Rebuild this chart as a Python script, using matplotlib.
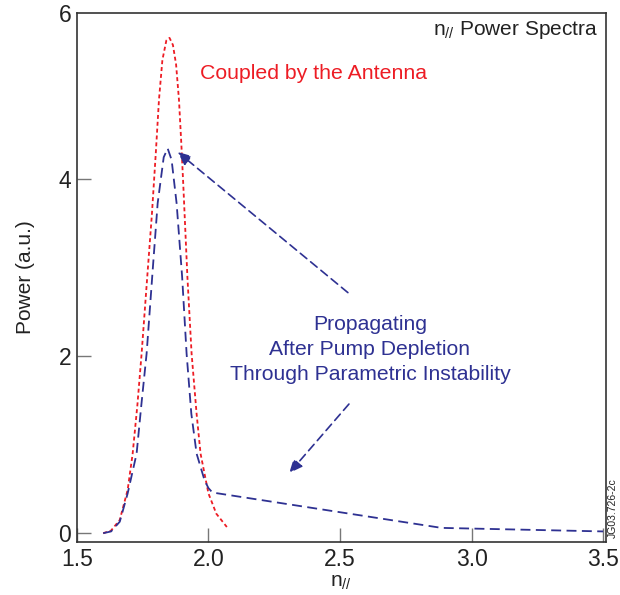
import matplotlib
matplotlib.use('Agg')
import matplotlib.pyplot as plt

# n_par values and power for the spectrum coupled by the antenna
n_red = [1.60, 1.63, 1.663, 1.693, 1.712, 1.73, 1.746, 1.765, 1.785, 1.80,
         1.812, 1.825, 1.84, 1.852, 1.865, 1.877, 1.888, 1.897, 1.905, 1.92,
         1.936, 1.955, 1.97, 2.00, 2.03, 2.07]
p_red = [0.00, 0.03, 0.15, 0.49, 0.90, 1.45, 2.03, 2.80, 3.60, 4.30,
         4.90, 5.35, 5.57, 5.60, 5.52, 5.30, 4.90, 4.40, 3.90, 2.90,
         2.03, 1.35, 0.90, 0.45, 0.22, 0.07]

# propagating spectrum after pump depletion
n_blue = [1.60, 1.63, 1.663, 1.693, 1.727, 1.745, 1.765, 1.79, 1.807, 1.83,
          1.845, 1.86, 1.879, 1.90, 1.917, 1.935, 1.955, 1.985, 2.00, 2.015,
          2.886, 3.50]
p_blue = [0.00, 0.02, 0.13, 0.45, 0.90, 1.45, 2.03, 3.05, 3.73, 4.25,
          4.35, 4.22, 3.73, 2.90, 2.03, 1.35, 0.90, 0.60, 0.51, 0.46,
          0.06, 0.02]

x_ticks = [1.5, 2.0, 2.5, 3.0, 3.5]
x_labels = ['1.5', '2.0', '2.5', '3.0', '3.5']
y_ticks = [0, 2, 4, 5.88]
y_labels = ['0', '2', '4', '6']

RED = '#ed1c24'
BLUE = '#2e3192'
GREY = '#333333'

plt.rcParams['font.family'] = ['Liberation Sans', 'DejaVu Sans']
plt.rcParams['mathtext.fontset'] = 'custom'
plt.rcParams['mathtext.rm'] = 'Liberation Sans'
plt.rcParams['mathtext.it'] = 'Liberation Sans'

fig = plt.figure(figsize=(6.2, 5.95), dpi=100)
ax = fig.add_axes([0.124, 0.089, 0.853, 0.889])

ax.plot(n_red, p_red, color=RED, linewidth=1.3, dashes=(2.2, 1.6))
ax.plot(n_blue, p_blue, color=BLUE, linewidth=1.3, dashes=(5.5, 3))

ax.set_xlim(1.5, 3.51)
ax.set_ylim(-0.1, 5.88)
ax.set_xticks(x_ticks)
ax.set_xticklabels(x_labels)
ax.set_yticks(y_ticks)
ax.set_yticklabels(y_labels)
ax.tick_params(direction='in', length=10, width=1, color='#777777',
               labelsize=16.5, labelcolor='#222222', pad=4)
ax.yaxis.get_major_ticks()[-1].tick1line.set_visible(False)
for s in ax.spines.values():
    s.set_color(GREY)
    s.set_linewidth(1.2)

ax.set_xlabel(r'n$_{//}$', fontsize=15, color='#222222', labelpad=2)
ax.set_ylabel('Power (a.u.)', fontsize=15, color='#222222', labelpad=17)

ax.text(0.985, 0.968, r'n$_{//}$ Power Spectra', transform=ax.transAxes,
        ha='right', va='center', fontsize=15, color='#222222')
ax.text(2.398, 5.20, 'Coupled by the Antenna', ha='center', va='center',
        fontsize=15.3, color=RED)
ax.text(2.614, 2.08, 'Propagating\nAfter Pump Depletion\nThrough Parametric Instability',
        ha='center', va='center', fontsize=15.2, color=BLUE, linespacing=1.4)

arrow_style = dict(arrowstyle='-|>,head_length=0.8,head_width=0.35',
                   color=BLUE, linestyle=(0, (5, 3)), linewidth=1.2,
                   shrinkA=0, shrinkB=0)
ax.annotate('', xy=(1.883, 4.31), xytext=(2.530, 2.72), arrowprops=arrow_style)
ax.annotate('', xy=(2.307, 0.68), xytext=(2.534, 1.46), arrowprops=arrow_style)

fig.text(0.988, 0.095, 'JG03.726-2c', rotation=90, ha='center', va='bottom',
         fontsize=7.5, color='#222222')

fig.savefig('out.png', dpi=100)
